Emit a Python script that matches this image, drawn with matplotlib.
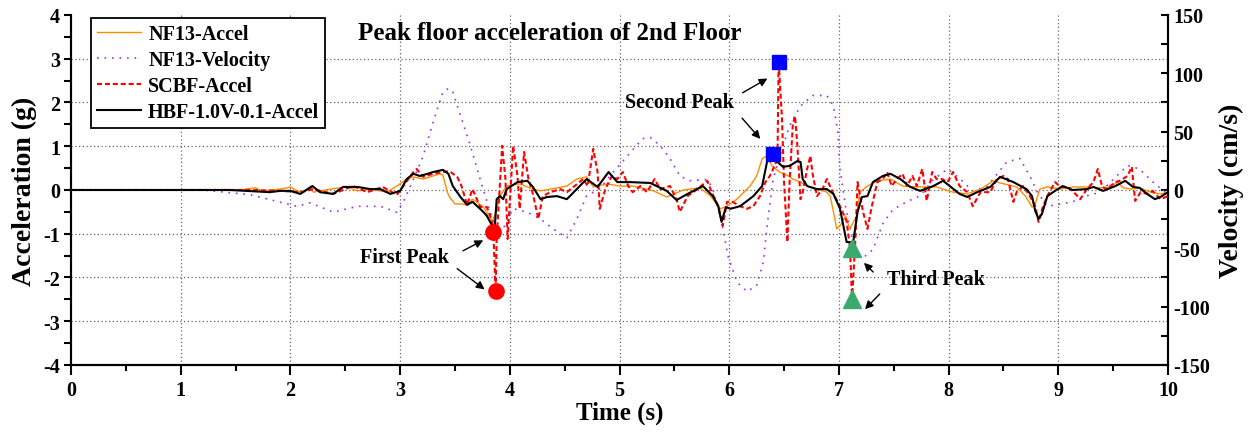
import matplotlib
matplotlib.use('Agg')
import matplotlib.pyplot as plt
from matplotlib.ticker import MultipleLocator

plt.rcParams['font.family'] = ['Liberation Serif', 'DejaVu Serif']
plt.rcParams['font.weight'] = 'bold'
plt.rcParams['axes.unicode_minus'] = False

# NF13 acceleration (g)
t_nf13 = [0, 1.54, 1.68, 1.74, 1.91, 2.00, 2.06, 2.11, 2.18, 2.21, 2.36, 2.52, 2.61, 2.73, 2.88, 2.97,
          3.06, 3.12, 3.21, 3.30, 3.36, 3.39, 3.43, 3.45, 3.50, 3.56, 3.61, 3.66, 3.76, 3.84, 3.88, 3.91,
          3.97, 4.09, 4.21, 4.28, 4.37, 4.52, 4.61, 4.70, 4.76, 4.89, 5.00, 5.12, 5.31, 5.43, 5.58, 5.73,
          5.83, 5.92, 5.98, 6.07, 6.19, 6.25, 6.30, 6.34, 6.39, 6.46, 6.54, 6.58, 6.65, 6.71, 6.80, 6.89,
          6.92, 6.95, 6.98, 7.01, 7.06, 7.10, 7.16, 7.19, 7.26, 7.35, 7.47, 7.58, 7.74, 7.89, 7.95, 8.04,
          8.17, 8.29, 8.41, 8.47, 8.62, 8.70, 8.76, 8.79, 8.83, 8.90, 9.02, 9.13, 9.26, 9.38, 9.47, 9.54,
          9.59, 9.68, 9.74, 9.84, 9.93, 10.0]
a_nf13 = [0, 0, 0.05, -0.02, 0.02, 0.07, -0.02, -0.05, 0.07, -0.05, 0.02, 0.07, -0.02, 0.02, -0.05, 0.09,
          0.25, 0.30, 0.25, 0.32, 0.37, 0.34, -0.05, -0.16, -0.32, -0.32, -0.34, -0.21, -0.39, -0.73, -0.43, -0.14,
          0.09, 0.14, 0.02, -0.02, 0.02, 0.09, 0.25, 0.30, 0.07, 0.14, 0.09, 0.09, -0.02, -0.16, 0.0, 0.05,
          -0.14, -0.43, -0.37, -0.21, 0.09, 0.32, 0.71, 0.78, 0.55, 0.41, 0.32, 0.25, 0.18, 0.09, 0.02, -0.05,
          -0.14, -0.50, -0.89, -0.82, -0.59, -0.89, -0.59, -0.05, 0.09, 0.21, 0.25, 0.09, 0.07, 0.07, 0.02, -0.05,
          -0.09, 0.02, 0.21, 0.16, 0.07, -0.14, -0.39, -0.32, 0.02, 0.07, 0.02, 0.07, 0.07, 0.05, 0.07, 0.18,
          0.05, 0.02, 0.05, -0.05, -0.09, -0.05]

# NF13 velocity (cm/s)
t_vel = [0, 1.20, 1.63, 2.06, 2.18, 2.39, 2.61, 2.82, 2.97, 3.03, 3.12, 3.21, 3.30, 3.39, 3.44, 3.48,
         3.56, 3.64, 3.73, 3.82, 3.88, 3.94, 4.03, 4.16, 4.28, 4.39, 4.52, 4.61, 4.70, 4.82, 4.94, 5.07,
         5.21, 5.28, 5.37, 5.46, 5.55, 5.64, 5.80, 5.85, 5.93, 5.99, 6.07, 6.16, 6.25, 6.31, 6.35, 6.40,
         6.46, 6.55, 6.65, 6.76, 6.89, 6.95, 6.99, 7.01, 7.06, 7.13, 7.21, 7.31, 7.40, 7.49, 7.62, 7.74,
         7.86, 7.99, 8.10, 8.22, 8.35, 8.47, 8.53, 8.65, 8.74, 8.81, 8.90, 9.02, 9.13, 9.26, 9.38, 9.50,
         9.63, 9.74, 9.86, 10.0]
v_vel = [0, 0, -4, -14, -11, -19, -14, -14, -19, -10, 9, 29, 58, 84, 87, 84,
         61, 38, 9, -19, -31, -33, -16, -19, -25, -33, -41, -25, -5, 1, 15, 29,
         44, 45, 38, 27, 12, 8, 9, 1, -27, -57, -79, -87, -82, -62, -27, 9,
         29, 55, 72, 81, 81, 72, 50, 18, -14, -46, -59, -51, -29, -17, -10, -5,
         9, 18, 10, -1, 3, 17, 24, 27, 12, -2, -14, -12, -10, -5, -2, 9,
         21, 18, 7, -4]

# SCBF acceleration (g)
t_scbf = [0, 1.18, 1.63, 1.91, 2.09, 2.21, 2.39, 2.57, 2.70, 2.84, 2.97, 3.03, 3.12, 3.15, 3.21, 3.30,
          3.39, 3.45, 3.52, 3.56, 3.61, 3.66, 3.73, 3.79, 3.84, 3.85, 3.87, 3.88, 3.93, 3.96, 3.98, 4.03,
          4.07, 4.09, 4.13, 4.17, 4.21, 4.26, 4.30, 4.37, 4.46, 4.52, 4.59, 4.67, 4.71, 4.76, 4.80, 4.82,
          4.87, 4.93, 4.98, 5.03, 5.08, 5.12, 5.19, 5.25, 5.32, 5.37, 5.46, 5.52, 5.55, 5.62, 5.71, 5.80,
          5.84, 5.90, 5.94, 5.98, 6.03, 6.10, 6.16, 6.22, 6.28, 6.33, 6.37, 6.40, 6.44, 6.45, 6.48, 6.50,
          6.53, 6.55, 6.58, 6.60, 6.62, 6.65, 6.67, 6.71, 6.74, 6.76, 6.80, 6.85, 6.89, 6.95, 7.01, 7.07,
          7.10, 7.12, 7.15, 7.17, 7.22, 7.26, 7.30, 7.35, 7.40, 7.44, 7.48, 7.53, 7.58, 7.62, 7.67, 7.71,
          7.76, 7.80, 7.85, 7.89, 7.94, 7.99, 8.04, 8.10, 8.17, 8.22, 8.29, 8.38, 8.44, 8.50, 8.54, 8.59,
          8.62, 8.68, 8.74, 8.79, 8.82, 8.86, 8.91, 8.97, 9.02, 9.08, 9.13, 9.20, 9.26, 9.32, 9.36, 9.40,
          9.44, 9.52, 9.56, 9.63, 9.67, 9.70, 9.75, 9.81, 9.86, 9.93, 10.0]
a_scbf = [0, 0, 0, -0.02, -0.05, 0.02, -0.09, 0.09, -0.05, 0.07, -0.11, 0.09, 0.41, 0.48, 0.30, 0.37,
          0.41, 0.43, 0.30, 0.09, -0.34, 0.02, -0.39, -0.39, -0.71, -0.96, -2.31, -1.12, 1.01, 0.25, -1.12, 1.01,
          0.32, -0.43, 0.87, 0.25, -0.09, -0.66, -0.14, -0.05, 0.02, -0.05, 0.09, 0.25, 0.09, 0.94, 0.41, -0.43,
          0.02, 0.32, 0.25, 0.41, 0.09, -0.05, 0.09, -0.05, 0.25, 0.02, 0.09, -0.21, -0.50, -0.14, 0.02, 0.21,
          -0.05, -0.37, -0.82, -0.27, -0.27, -0.37, -0.43, -0.37, -0.14, 0.18, 0.32, 0.48, 0.71, 2.93, 1.69, 0.18,
          -1.19, 0.18, 1.51, 1.69, 1.05, -0.21, -0.05, 0.48, 0.78, 0.37, -0.14, 0.02, 0.25, -0.09, -0.37, -0.71,
          -1.30, -2.49, -1.12, 0.18, -0.50, -0.89, -0.37, 0.18, 0.25, 0.41, 0.09, 0.25, 0.37, 0.09, 0.32, 0.09,
          0.48, -0.25, 0.41, 0.25, 0.25, 0.18, 0.41, 0.09, -0.05, -0.37, -0.05, -0.05, 0.25, 0.32, 0.25, -0.27,
          -0.05, 0.09, -0.14, -0.37, -0.73, -0.37, -0.09, 0.18, 0.07, 0.07, -0.02, -0.21, 0.02, 0.18, 0.48, 0.07,
          0.02, 0.18, 0.21, 0.32, 0.53, -0.25, -0.05, -0.09, -0.02, -0.21, -0.14]

# HBF-1.0V-0.1 acceleration (g)
t_hbf = [0, 1.45, 1.81, 1.91, 2.00, 2.09, 2.20, 2.27, 2.39, 2.48, 2.61, 2.73, 2.82, 2.91, 3.00, 3.06,
         3.12, 3.18, 3.25, 3.30, 3.39, 3.44, 3.48, 3.55, 3.61, 3.66, 3.75, 3.79, 3.84, 3.86, 3.88, 3.91,
         3.94, 3.97, 4.07, 4.16, 4.21, 4.28, 4.34, 4.43, 4.52, 4.61, 4.70, 4.80, 4.90, 4.98, 5.10, 5.28,
         5.43, 5.52, 5.62, 5.76, 5.85, 5.90, 5.93, 5.97, 6.01, 6.10, 6.22, 6.30, 6.35, 6.39, 6.44, 6.49,
         6.55, 6.62, 6.65, 6.67, 6.71, 6.80, 6.89, 6.95, 7.01, 7.07, 7.13, 7.17, 7.21, 7.26, 7.31, 7.40,
         7.47, 7.56, 7.65, 7.74, 7.86, 7.95, 8.01, 8.10, 8.17, 8.26, 8.38, 8.47, 8.59, 8.71, 8.76, 8.79,
         8.82, 8.85, 8.90, 8.97, 9.04, 9.13, 9.26, 9.32, 9.41, 9.52, 9.61, 9.68, 9.74, 9.81, 9.88, 9.93,
         10.0]
a_hbf = [0, 0, -0.05, -0.02, -0.02, -0.09, 0.09, -0.05, -0.09, 0.07, 0.07, 0.02, 0.02, -0.09, -0.02, 0.25,
         0.37, 0.32, 0.37, 0.41, 0.46, 0.37, 0.09, -0.16, -0.34, -0.27, -0.48, -0.59, -0.82, -0.96, -0.21, -0.14,
         -0.21, 0.02, 0.18, 0.21, 0.07, -0.21, -0.16, -0.14, -0.21, 0.02, 0.25, 0.07, 0.41, 0.18, 0.18, 0.16,
         -0.02, -0.23, -0.09, 0.09, -0.14, -0.37, -0.73, -0.39, -0.43, -0.37, -0.14, 0.09, 0.71, 0.78, 0.64, 0.53,
         0.55, 0.66, 0.64, 0.25, 0.09, 0.02, 0.02, -0.09, -0.43, -1.19, -1.19, -0.50, -0.16, -0.14, 0.18, 0.32,
         0.37, 0.25, 0.07, -0.02, 0.09, 0.21, 0.09, -0.09, -0.16, -0.05, 0.07, 0.30, 0.18, 0.02, -0.14, -0.48,
         -0.66, -0.55, -0.14, -0.02, 0.09, 0.0, 0.02, 0.07, -0.02, 0.09, 0.21, 0.07, 0.05, -0.09, -0.21, -0.16,
         -0.05]

# peak markers
peak1_t = [3.85, 3.87]
peak1_a = [-0.96, -2.31]
peak2_t = [6.40, 6.45]
peak2_a = [0.82, 2.93]
peak3_t = [7.12, 7.12]
peak3_a = [-1.33, -2.49]

fig = plt.figure(figsize=(12.55, 4.39), dpi=100)
ax = fig.add_axes([0.0566, 0.1663, 0.8741, 0.7973])
ax2 = ax.twinx()
ax.set_zorder(ax2.get_zorder() + 1)
ax.patch.set_visible(False)

# grid
for gx in range(1, 10):
    ax.axvline(gx, color='#666666', ls=(0, (1, 2)), lw=0.9, zorder=0)
for gy in range(-3, 4):
    ax.axhline(gy, color='#666666', ls=(0, (1, 2)), lw=0.9, zorder=0)

l_vel, = ax2.plot(t_vel, v_vel, color='#9B30FF', ls=(0, (1, 3.5)), lw=1.2, label='NF13-Velocity')
l_nf, = ax.plot(t_nf13, a_nf13, color='#FF8C00', lw=1.0, label='NF13-Accel', zorder=2)
l_sc, = ax.plot(t_scbf, a_scbf, color='#FF0000', ls=(0, (2.4, 1.4)), lw=1.5, label='SCBF-Accel', zorder=3)
l_hb, = ax.plot(t_hbf, a_hbf, color='black', lw=1.5, label='HBF-1.0V-0.1-Accel', zorder=4)

ax.plot(peak1_t, peak1_a, 'o', color='#FF0000', ms=11, zorder=6)
ax.plot(peak2_t, peak2_a, 's', color='#0000FF', ms=10, zorder=6)
ax.plot(peak3_t, peak3_a, '^', color='#3CAA6E', ms=13, zorder=6)

ax.set_xlim(0, 10)
ax.set_ylim(-4, 4)
ax2.set_ylim(-150, 150)

ax.xaxis.set_major_locator(MultipleLocator(1))
ax.xaxis.set_minor_locator(MultipleLocator(0.5))
ax.yaxis.set_major_locator(MultipleLocator(1))
ax.yaxis.set_minor_locator(MultipleLocator(0.5))
ax2.yaxis.set_major_locator(MultipleLocator(50))
ax2.yaxis.set_minor_locator(MultipleLocator(25))

ax.tick_params(axis='x', which='major', direction='out', length=7, width=1.5, labelsize=14.5, pad=4)
ax.tick_params(axis='x', which='minor', direction='out', length=4, width=1.5)
ax.tick_params(axis='y', which='both', direction='out', length=5, width=1.5, labelsize=14.5, pad=3)
ax2.tick_params(axis='y', which='both', direction='in', length=5, width=1.5, labelsize=14.5, pad=4)

for a in (ax, ax2):
    a.spines['top'].set_visible(False)
    for s in ('left', 'right', 'bottom'):
        a.spines[s].set_linewidth(1.5)

ax.set_xlabel('Time (s)', fontsize=18, fontweight='bold', labelpad=0)
ax.set_ylabel('Acceleration (g)', fontsize=20, fontweight='bold', labelpad=4)
ax2.set_ylabel('Velocity (cm/s)', fontsize=20, fontweight='bold', labelpad=6)

ax.text(4.36, 3.61, 'Peak floor acceleration of 2nd Floor', fontsize=18, fontweight='bold',
        ha='center', va='center')

arrow = dict(arrowstyle='-|>', color='black', lw=1.0, mutation_scale=12)
ax.text(3.04, -1.53, 'First Peak', fontsize=14.5, fontweight='bold', ha='center', va='center')
ax.annotate('', xy=(3.78, -1.12), xytext=(3.55, -1.42), arrowprops=arrow)
ax.annotate('', xy=(3.79, -2.31), xytext=(3.50, -1.76), arrowprops=arrow)

ax.text(5.55, 2.01, 'Second Peak', fontsize=14.5, fontweight='bold', ha='center', va='center')
ax.annotate('', xy=(6.37, 2.58), xytext=(6.10, 2.19), arrowprops=arrow)
ax.annotate('', xy=(6.30, 1.12), xytext=(6.10, 1.69), arrowprops=arrow)

ax.text(7.88, -2.03, 'Third Peak', fontsize=14.5, fontweight='bold', ha='center', va='center')
ax.annotate('', xy=(7.21, -1.62), xytext=(7.33, -1.92), arrowprops=arrow)
ax.annotate('', xy=(7.22, -2.77), xytext=(7.39, -2.33), arrowprops=arrow)

leg = ax.legend(handles=[l_nf, l_vel, l_sc, l_hb], loc='upper left', bbox_to_anchor=(0.018, 0.992),
                borderaxespad=0, fancybox=False, framealpha=1, edgecolor='black',
                prop={'size': 14.5, 'weight': 'bold'}, handlelength=2.2, handletextpad=0.35,
                labelspacing=0.3, borderpad=0.3)
leg.get_frame().set_linewidth(1.3)

fig.savefig('out.png', dpi=100)
